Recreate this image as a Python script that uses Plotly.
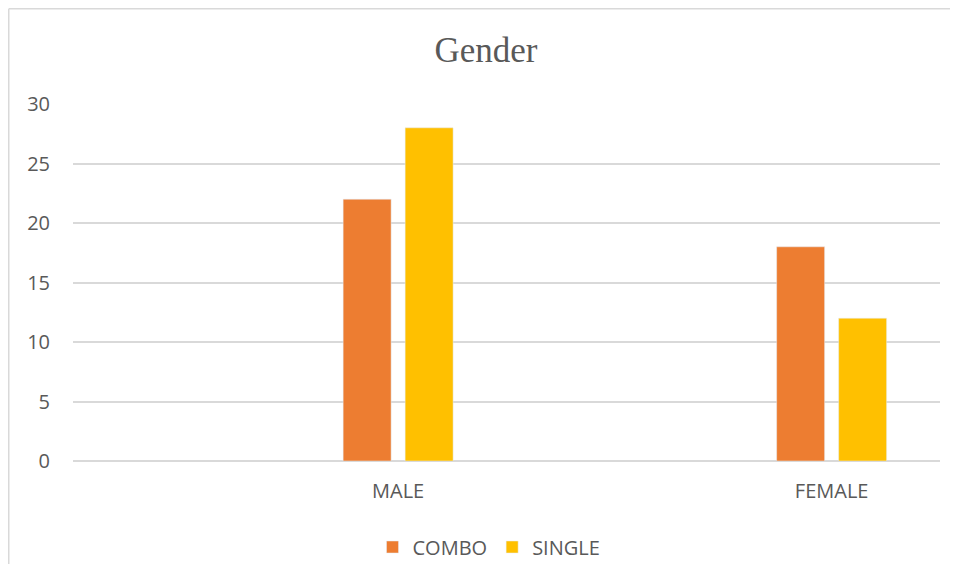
import plotly.graph_objects as go

categories = ["MALE", "FEMALE"]
combo = [22, 18]
single = [28, 12]
y_ticks = [0, 5, 10, 15, 20, 25, 30]

TEXT = "#595959"
GRID = "#D9D9D9"
FONT = "Open Sans"

# plot area (figure pixels): left 65, right 932, top 96, bottom 453
W, H = 942, 556
L, R, T, B = 65, 10, 96, 103
PW, PH = W - L - R, H - T - B

fig = go.Figure()
fig.add_trace(go.Bar(x=categories, y=combo, name="COMBO", marker={"color": "#ED7D31"}))
fig.add_trace(go.Bar(x=categories, y=single, name="SINGLE", marker={"color": "#FFC000"}))

# chart border (only top and left edges fall inside the window)
edge_x = (0.75 - L) / PW
edge_top = 1 + (T - 0.75) / PH
edge_bottom = -(B + 30) / PH
edge_right = (W + 20 - L) / PW

fig.update_layout(
    width=W,
    height=H,
    margin={"l": L, "r": R, "t": T, "b": B},
    paper_bgcolor="white",
    plot_bgcolor="white",
    barmode="group",
    bargap=0.714,
    bargroupgap=0.226,
    title={
        "text": "Gender",
        "font": {"family": "Liberation Serif", "size": 35, "color": TEXT},
        "x": 478 / W,
        "xanchor": "center",
        "y": 1 - 42 / H,
        "yanchor": "middle",
    },
    xaxis={
        "type": "category",
        "range": [-0.75, 1.25],
        "showgrid": False,
        "showline": False,
        "zeroline": False,
        "tickfont": {"family": FONT, "size": 20, "color": TEXT},
        "ticklabelstandoff": 16,
    },
    yaxis={
        "range": [0, 30],
        "tickvals": y_ticks,
        "showgrid": True,
        "gridcolor": GRID,
        "gridwidth": 1.5,
        "zeroline": True,
        "zerolinecolor": GRID,
        "zerolinewidth": 1.5,
        "tickfont": {"family": FONT, "size": 20, "color": TEXT},
        "ticklabelstandoff": 22,
    },
    showlegend=True,
    legend={
        "orientation": "h",
        "xref": "container",
        "yref": "container",
        "x": 481 / W,
        "xanchor": "center",
        "y": 1 - 539 / H,
        "yanchor": "middle",
        "font": {"family": FONT, "size": 20, "color": TEXT},
        "itemwidth": 30,
    },
    shapes=[
        {
            "type": "line", "xref": "paper", "yref": "paper",
            "x0": edge_x, "x1": edge_right, "y0": edge_top, "y1": edge_top,
            "line": {"color": GRID, "width": 1.5},
        },
        {
            "type": "line", "xref": "paper", "yref": "paper",
            "x0": edge_x, "x1": edge_x, "y0": edge_top, "y1": edge_bottom,
            "line": {"color": GRID, "width": 1.5},
        },
    ],
)

fig.write_html("out.html")
